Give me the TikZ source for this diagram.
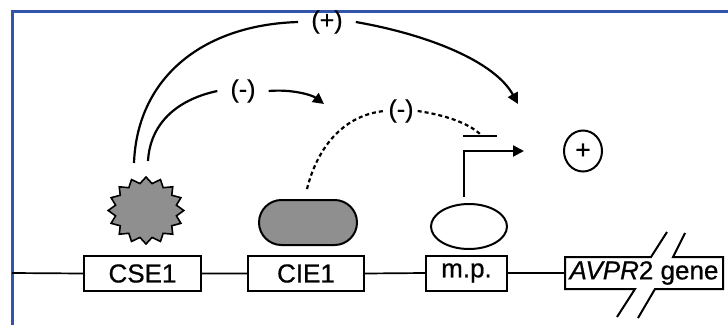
\documentclass[tikz,border=0pt]{standalone}
\usepackage{fontspec}
\setmainfont{Liberation Sans}[UprightFeatures={FakeBold=0.6},ItalicFeatures={FakeBold=0.6}]
\usetikzlibrary{shapes.geometric,shapes.misc,arrows.meta}
\definecolor{frameblue}{RGB}{50,85,170}
\definecolor{fillgray}{RGB}{143,143,143}
\begin{document}
\begin{tikzpicture}[x=1pt,y=-1pt,
  boxfont/.style={font=\fontsize{26}{28}\selectfont},
  box/.style={draw, line width=2pt, minimum height=35pt, inner sep=0pt, boxfont},
  boxline/.style={line width=2pt, line join=miter},
  lbl/.style={font=\fontsize{25}{26}\selectfont, inner xsep=13pt, inner ysep=1pt},
  arc/.style={line width=2.2pt},
  dotted line/.style={line width=2.2pt, dash pattern=on 4pt off 3pt},
  tip/.style={-{Triangle[length=11pt,width=11pt]}}]
\useasboundingbox (0,0) rectangle (728,324);
\clip (0,0) rectangle (728,324);
\draw[frameblue, line width=3pt] (740,11) -- (12,11) -- (12,340);

% DNA elements
\node[box, minimum width=117pt] (cse) at (142.5,273.5) {CSE1};
\node[box, minimum width=116pt] (cie) at (306,273.5) {CIE1};
\node[box, minimum width=81pt] (mp) at (466.5,273) {m.p.};
\node[boxfont, inner sep=0pt, minimum width=158pt, minimum height=32pt] (gene) at (644,273) {\textit{AVPR}2 gene};
\draw[boxline] (667,232) -- (651,257) -- (565,257) -- (565,289) -- (635,289) -- (617,317);
\draw[boxline] (638,318) -- (655,289) -- (723,289) -- (723,257) -- (673,257) -- (685,233);

\coordinate (lstart) at (12,273);
\draw[line width=1.7pt] (lstart) -- (cse.west) (cse.east) -- (cie.west) (cie.east) -- (mp.west) (mp.east) -- (gene.west);

% factors
\node[star, star points=16, star point ratio=1.22, draw, fill=fillgray, line width=1.6pt, minimum size=72pt, inner sep=0pt, xscale=1.05, yscale=0.93, transform shape] (lig) at (146,210.5) {};
\node[rounded rectangle, draw, fill=fillgray, line width=2pt, minimum width=98pt, minimum height=45pt, inner sep=0pt] (pill) at (308,222.5) {};
\node[ellipse, draw, fill=white, line width=2pt, minimum width=76pt, minimum height=45pt, inner sep=0pt] (rec) at (469,226.5) {};
\node[ellipse, draw, line width=2pt, minimum width=38pt, minimum height=41pt, inner sep=0pt, font=\fontsize{26}{26}\selectfont] (plus) at (583,151) {+};

% promoter
\coordinate (pbase) at (464,197);
\coordinate (pcorner) at (464,151);
\coordinate (ptip) at (524,151);
\draw[arc, line join=miter, tip] (pbase) -- (pcorner) -- (ptip);
\coordinate (barL) at (463,136);
\coordinate (barR) at (497,136);
\draw[arc] (barL) -- (barR);

% labels
\node[lbl] (lp) at (327,22) {(+)};
\node[lbl] (lm1) at (243,91) {(-)};
\node[lbl, inner xsep=4pt] (lm2) at (401,111) {(-)};

\coordinate (o1) at (134,163);
\coordinate (i1) at (148,161);
\coordinate (o2) at (518,104);
\coordinate (i2) at (324,104);
\coordinate (d1) at (307,189);
\coordinate (d2) at (480,134);

\draw[arc] (o1) .. controls (137,80) and (200,25) .. (lp.west);
\draw[arc, tip] (lp.east) .. controls (430,35) and (495,62) .. (o2);
\draw[arc] (i1) .. controls (150,125) and (175,100) .. (lm1.west);
\draw[arc, tip] (lm1.east) .. controls (292,89) and (312,95) .. (i2);
\draw[dotted line] (d1) .. controls (318,145) and (345,115) .. (lm2.west);
\draw[dotted line] (lm2.east) .. controls (445,115) and (468,123) .. (d2);
\end{tikzpicture}
\end{document}
